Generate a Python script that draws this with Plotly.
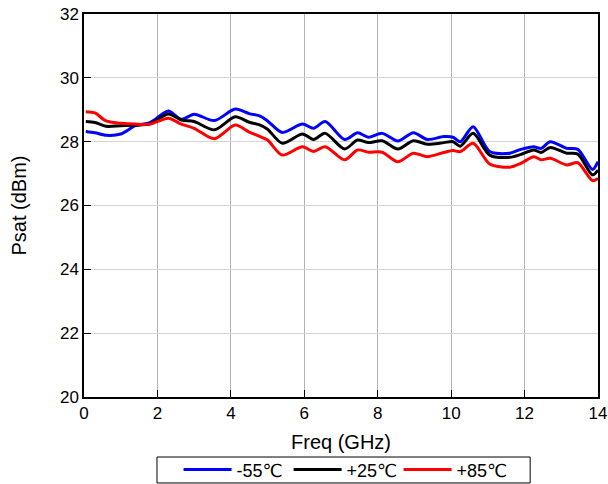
import plotly.graph_objects as go

freq = [0.05, 0.3, 0.6, 1.0, 1.4, 1.8, 2.3, 2.65, 3.0, 3.55, 4.12, 4.5, 4.8, 5.0, 5.4,
        5.95, 6.25, 6.57, 7.1, 7.45, 7.75, 8.12, 8.55, 8.97, 9.35, 9.8, 10.05, 10.25,
        10.6, 11.05, 11.6, 11.9, 12.25, 12.45, 12.7, 13.15, 13.45, 13.85, 14.0]

psat_m55 = [28.32, 28.28, 28.2, 28.24, 28.5, 28.6, 28.96, 28.7, 28.86, 28.66, 29.02, 28.88,
            28.8, 28.65, 28.29, 28.55, 28.42, 28.63, 28.07, 28.28, 28.14, 28.26, 28.02,
            28.28, 28.07, 28.16, 28.14, 28.0, 28.47, 27.69, 27.64, 27.76, 27.84, 27.79,
            28.0, 27.79, 27.76, 27.13, 27.37]

psat_p25 = [28.63, 28.6, 28.48, 28.5, 28.52, 28.56, 28.87, 28.68, 28.63, 28.37, 28.78, 28.61,
            28.52, 28.39, 27.95, 28.24, 28.07, 28.26, 27.77, 28.05, 27.97, 28.03, 27.77,
            28.03, 27.92, 27.97, 28.0, 27.86, 28.26, 27.58, 27.51, 27.6, 27.74, 27.66,
            27.82, 27.64, 27.61, 26.96, 27.11]

psat_p85 = [28.94, 28.9, 28.65, 28.58, 28.55, 28.55, 28.73, 28.55, 28.42, 28.09, 28.52, 28.3,
            28.16, 28.05, 27.58, 27.84, 27.69, 27.84, 27.43, 27.74, 27.67, 27.67, 27.37,
            27.64, 27.53, 27.66, 27.72, 27.69, 27.95, 27.3, 27.2, 27.32, 27.53, 27.43,
            27.48, 27.27, 27.34, 26.78, 26.85]

series = [("-55℃", psat_m55, "#0000ff"),
          ("+25℃", psat_p25, "#000000"),
          ("+85℃", psat_p85, "#ff0000")]

fig = go.Figure()
for name, vals, color in series:
    fig.add_trace(go.Scatter(x=freq, y=vals, mode="lines", name=name,
                             line=dict(color=color, width=3, shape="spline", smoothing=0.8)))

font = "Liberation Sans, Arial, DejaVu Sans, sans-serif"
fig.update_layout(
    width=608, height=484,
    margin=dict(l=84, r=10, t=14, b=87, autoexpand=False),
    paper_bgcolor="white", plot_bgcolor="white",
    font=dict(family=font, size=17, color="black"),
    showlegend=True,
    legend=dict(orientation="h", x=0.505, xanchor="center", y=-0.142, yanchor="top",
                borderwidth=0, bgcolor="rgba(0,0,0,0)", font=dict(size=18),
                itemwidth=48, tracegroupgap=0, entrywidth=47, entrywidthmode="pixels"),
    shapes=[dict(type="rect", xref="paper", yref="paper",
                 x0=0.142, x1=0.868, y0=-0.2245, y1=-0.1567,
                 line=dict(color="black", width=1), fillcolor="rgba(0,0,0,0)")],
    xaxis=dict(range=[0, 14], dtick=2, tick0=0, showgrid=True, gridcolor="#b3b3b3",
               gridwidth=1, showline=True, linecolor="black", linewidth=1.5, mirror=True,
               ticks="inside", ticklen=7, tickcolor="black", zeroline=False,
               automargin=False,
               title=dict(text="Freq (GHz)", font=dict(size=20), standoff=13),
               tickfont=dict(size=17)),
    yaxis=dict(range=[20, 32], dtick=2, tick0=20, showgrid=True, gridcolor="#d4d4d4",
               gridwidth=1, showline=True, linecolor="black", linewidth=1.5, mirror=True,
               ticks="inside", ticklen=7, tickcolor="black", zeroline=False,
               automargin=False,
               title=dict(text="Psat (dBm)", font=dict(size=20), standoff=28),
               tickfont=dict(size=17)),
)

fig.write_html("out.html", post_script="document.body.style.margin='0';",
               config={"displayModeBar": False})
